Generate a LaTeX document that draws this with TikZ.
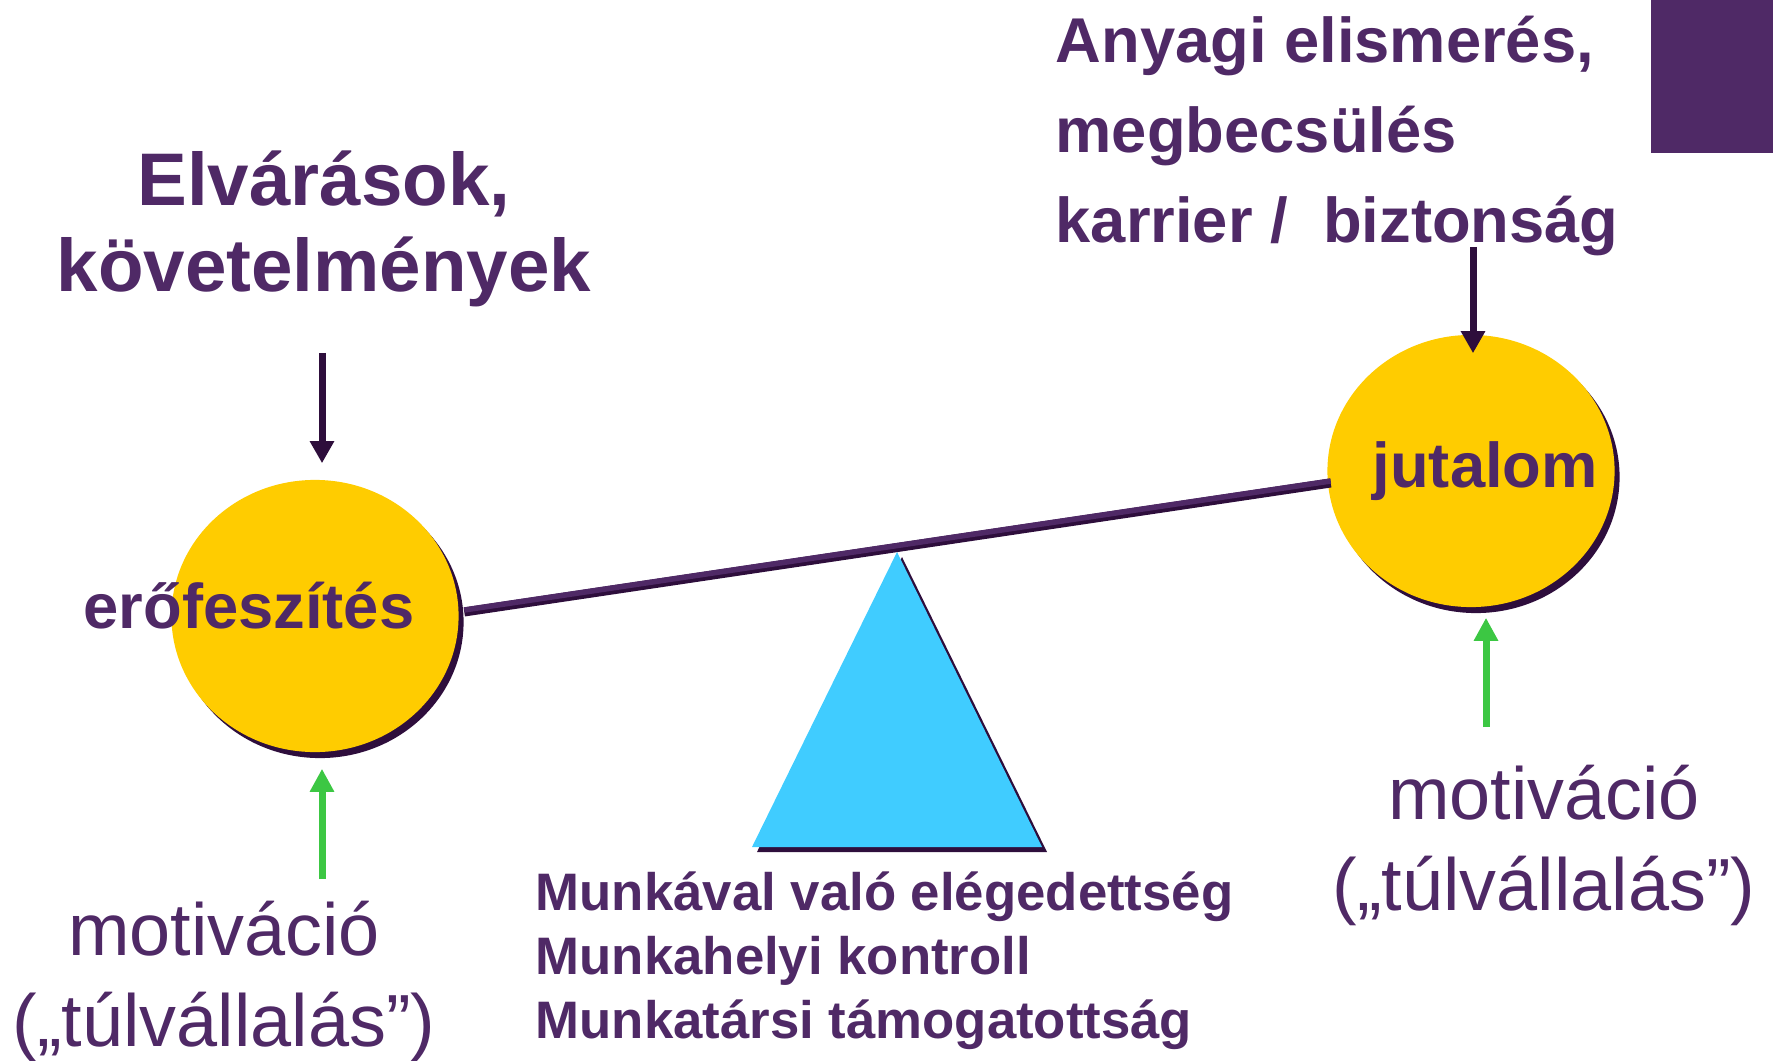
\documentclass[tikz,border=0pt]{standalone}
\usepackage{fontspec}
\setmainfont{Liberation Sans}
\usetikzlibrary{shapes.geometric,shadows,arrows.meta}
\definecolor{inkpurple}{HTML}{4F2966}
\definecolor{shadeink}{HTML}{2E0E3C}
\definecolor{ballgold}{HTML}{FFCC00}
\definecolor{wedgeblue}{HTML}{40CCFF}
\definecolor{pushgreen}{HTML}{3CC743}
\tikzset{
  ball/.style={ellipse, fill=ballgold, minimum width=2.87cm, minimum height=2.72cm, inner sep=0pt,
    drop shadow={shadow xshift=0.05cm, shadow yshift=-0.06cm, fill=shadeink, opacity=1}},
  bigbold/.style={text=inkpurple, inner sep=0pt, font=\fontsize{21.2}{24.5}\selectfont\bfseries},
  midbold/.style={text=inkpurple, inner sep=0pt, font=\fontsize{18}{25.7}\selectfont\bfseries},
  smallbold/.style={text=inkpurple, inner sep=0pt, font=\fontsize{15}{18.2}\selectfont\bfseries},
  plainbig/.style={text=inkpurple, inner sep=0pt, font=\fontsize{21}{25.8}\selectfont},
  darkpush/.style={draw=shadeink, line width=0.07cm, -{Triangle[width=0.23cm,length=0.22cm]}},
  greenpush/.style={draw=pushgreen, line width=0.07cm, -{Triangle[width=0.23cm,length=0.23cm]}}
}
\begin{document}
\begin{tikzpicture}[x=0.01cm,y=-0.01cm]
  \useasboundingbox (0,0) rectangle (1773,1061);
  \fill[inkpurple] (1651,0) rectangle (1773,153);

  % fulcrum
  \fill[shadeink] (902,557) -- (1047,852) -- (757,852) -- cycle;
  \fill[wedgeblue] (897,552) -- (1042,847) -- (752,847) -- cycle;

  \node[ball] (effort) at (315,616) {};
  \node[ball] (reward) at (1471,471) {};

  \coordinate (beamL) at ([xshift=0.05cm,yshift=0.04cm]effort.east);
  \coordinate (beamR) at ([xshift=0.04cm,yshift=-0.12cm]reward.west);
  \draw[shadeink, line width=0.09cm] (beamL) -- (beamR);
  \draw[inkpurple, line width=0.055cm] ([yshift=0.02cm]beamL) -- ([yshift=0.02cm]beamR);

  \node[midbold, anchor=base west] (effortlbl) at (83,628) {erőfeszítés};
  \node[midbold, anchor=base west] (rewardlbl) at (1372,488) {jutalom};

  \node[bigbold, align=center, anchor=base] (demands) at (324,292) {Elvárások,\\követelmények};
  \node[midbold, align=left, anchor=base west] (gains) at (1055,243) {Anyagi elismerés,\\megbecsülés\\karrier /\ \ biztonság};
  \node[plainbig, align=center, anchor=base] (motivL) at (224,1046) {motiváció\\(„túlvállalás”)};
  \node[plainbig, align=center, anchor=base] (motivR) at (1544,910) {motiváció\\(„túlvállalás”)};
  \node[smallbold, align=left, anchor=base west] (buffers) at (535,1038) {Munkával való elégedettség\\Munkahelyi kontroll\\Munkatársi támogatottság};

  \coordinate (demandfoot) at (322,353);
  \coordinate (gainfoot) at (1473,247);
  \coordinate (motivLtop) at (322,879);
  \coordinate (motivRtop) at (1486,727);
  \draw[darkpush, shorten >=0.16cm] (demandfoot) -- (demandfoot |- effort.north);
  \draw[darkpush, shorten >=-0.19cm] (gainfoot) -- (gainfoot |- reward.north);
  \draw[greenpush, shorten >=0.16cm] (motivLtop) -- (motivLtop |- effort.south);
  \draw[greenpush, shorten >=0.10cm] (motivRtop) -- (motivRtop |- reward.south);
\end{tikzpicture}
\end{document}
